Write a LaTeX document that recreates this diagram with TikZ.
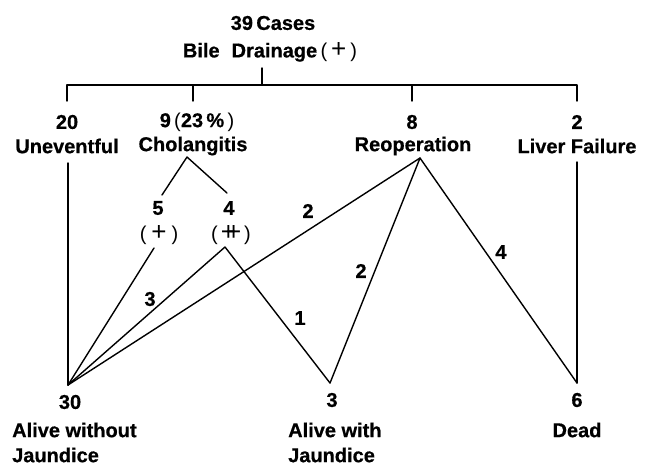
\documentclass[tikz,border=0pt]{standalone}
\usepackage{fontspec}
\setmainfont{Liberation Sans}[BoldFeatures={FakeBold=0.6}]
\tikzset{
  lbl/.style={font=\fontsize{20}{22}\selectfont\bfseries, inner sep=0pt, anchor=center},
  num/.style={lbl},
  par/.style={lbl, font=\fontsize{20}{22}\selectfont},
  ln/.style={line width=1.4pt, line cap=round, line join=round},
}
\newcommand{\bplus}{\scalebox{1.3}{+}}
\newcommand{\dplus}{\scalebox{1.3}{\makebox[0pt][l]{+}\hspace{0.2em}+}}
\begin{document}
\begin{tikzpicture}[x=1pt,y=-1pt]
\useasboundingbox (0,0) rectangle (645,467);
% top
\node[lbl] (t1) at (273,23) {39\,Cases};
\node[lbl] (t2) at (270,52) {Bile\hspace{0.6em}Drainage{\mdseries\,(\hspace{0.2em}\bplus\hspace{0.2em})}};
\coordinate (tb) at (262,68);
\coordinate (tj) at (262,85);
\coordinate (hL) at (67,85);
\coordinate (hR) at (577,85);
\coordinate (h2) at (193,85);
\coordinate (h3) at (412,85);
\coordinate (d1) at (67,101);
\coordinate (d2) at (193,101);
\coordinate (d3) at (412,101);
\coordinate (d4) at (577,101);
\draw[ln] (tb) -- (tj);
\draw[ln] (d1) -- (hL) -- (hR) -- (d4);
\draw[ln] (h2) -- (d2);
\draw[ln] (h3) -- (d3);
% level 1
\node[num] (n20) at (67,122) {20};
\node[lbl] (uneventful) at (67,146) {Uneventful};
\node[num] (n9) at (197,122) {9{\mdseries\,(}23\,\%{\mdseries\,)}};
\node[lbl] (chol) at (193,146) {Cholangitis};
\node[num] (n8) at (412,122) {8};
\node[lbl] (reop) at (413,146) {Reoperation};
\node[num] (n2) at (577,122) {2};
\node[lbl] (liver) at (577,146) {Liver Failure};
% level 2
\node[num] (n5) at (158,208) {5};
\node[par] (p5) at (159,235) {(\hspace{0.25em}\bplus\hspace{0.25em})};
\node[num] (n4) at (229,208) {4};
\node[par] (p4) at (231,235) {(\hspace{0.15em}\dplus\hspace{0.15em})};
% apex coordinates
\coordinate (cA) at (68,163);
\coordinate (cB) at (187,157);
\coordinate (cR) at (420,158);
\coordinate (cL) at (577,162);
\coordinate (c5t) at (162,195);
\coordinate (c4t) at (227,193);
\coordinate (c5b) at (154,248);
\coordinate (c4b) at (225,247);
\coordinate (b30) at (68,385);
\coordinate (b3) at (330,383);
\coordinate (b6) at (577,383);
% lines
\draw[ln] (cA) -- (b30);
\draw[ln] (c5t) -- (cB) -- (c4t);
\draw[ln] (c5b) -- (b30);
\draw[ln] (b30) -- (c4b) -- (b3);
\draw[ln] (b30) -- (cR);
\draw[ln] (b3) -- (cR) -- (b6);
\draw[ln] (cL) -- (b6);
% edge labels
\node[num] (e2a) at (308,211) {2};
\node[num] (e3) at (150,299) {3};
\node[num] (e1) at (300,318) {1};
\node[num] (e2b) at (361,271) {2};
\node[num] (e4) at (501,252) {4};
% bottom
\node[num] (n30) at (70,402) {30};
\node[lbl,anchor=west] (alive1) at (12,430) {Alive without};
\node[lbl,anchor=west] (alive1b) at (12,455) {Jaundice};
\node[num] (n3) at (332,400) {3};
\node[lbl,anchor=west] (alive2) at (288,430) {Alive with};
\node[lbl,anchor=west] (alive2b) at (288,455) {Jaundice};
\node[num] (n6) at (577,400) {6};
\node[lbl] (dead) at (577,430) {Dead};
\end{tikzpicture}
\end{document}
